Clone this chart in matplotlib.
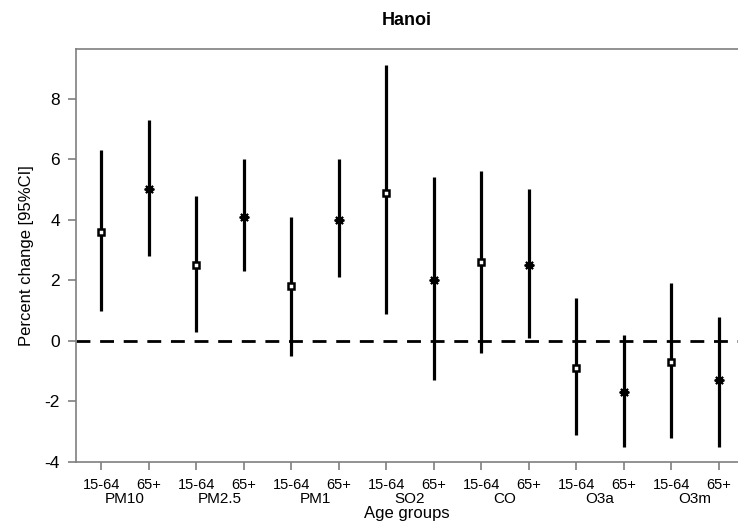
import numpy as np
import matplotlib.pyplot as plt

plt.rcParams['font.family'] = ['Liberation Sans', 'DejaVu Sans']
plt.rcParams['axes.unicode_minus'] = False

# pollutants and age groups
pollutants = ['PM10', 'PM2.5', 'PM1', 'SO2', 'CO', 'O3a', 'O3m']
age_groups = ['15-64', '65+']

# percent change and 95% CI, 15-64 then 65+ for each pollutant
est_young = [3.6, 2.5, 1.8, 4.9, 2.6, -0.9, -0.7]
low_young = [1.0, 0.3, -0.5, 0.9, -0.4, -3.1, -3.2]
high_young = [6.3, 4.8, 4.1, 9.1, 5.6, 1.4, 1.9]

est_old = [5.0, 4.1, 4.0, 2.0, 2.5, -1.7, -1.3]
low_old = [2.8, 2.3, 2.1, -1.3, 0.1, -3.5, -3.5]
high_old = [7.3, 6.0, 6.0, 5.4, 5.0, 0.2, 0.8]

fig = plt.figure(figsize=(7.38, 5.28), dpi=100)
ax = fig.add_axes([76/738, 66/528, 662/738, 413/528])

x_young = np.arange(len(pollutants)) * 2 + 1
x_old = x_young + 1

ax.axhline(0, color='black', lw=2.0, ls=(0, (5, 3.5)), zorder=1)

ax.vlines(x_young, low_young, high_young, color='black', lw=2.3, zorder=2)
ax.vlines(x_old, low_old, high_old, color='black', lw=2.3, zorder=2)
ax.plot(x_young, est_young, ls='none', marker='s', ms=4.5, mfc='white',
        mec='black', mew=1.8, zorder=3)
ax.plot(x_old, est_old, ls='none', marker=(8, 2, 0), ms=7, mec='black',
        mew=1.4, zorder=3)

ax.set_xlim(0.47, 14.4)
ax.set_ylim(-4, 9.64)
ax.set_yticks([-4, -2, 0, 2, 4, 6, 8])

ticks = np.arange(1, 15)
ax.set_xticks(ticks)
ax.set_xticklabels(age_groups * len(pollutants))
for xc, name in zip(x_young + 0.5, pollutants):
    ax.text(xc, -0.072, name, transform=ax.get_xaxis_transform(),
            ha='center', va='top', fontsize=11)

for side in ['left', 'top', 'bottom']:
    ax.spines[side].set_color('#7f7f7f')
    ax.spines[side].set_linewidth(1.2)
ax.spines['right'].set_visible(False)
ax.tick_params(axis='both', color='#7f7f7f', length=5.5, width=1.2)
ax.tick_params(axis='x', labelsize=10.5, pad=6)
ax.tick_params(axis='y', labelsize=12.5, pad=6)

ax.set_xlabel('Age groups', fontsize=12, labelpad=10)
ax.set_ylabel('Percent change [95%CI]', fontsize=12, labelpad=8)
ax.set_title('Hanoi', fontsize=13, fontweight='bold', pad=17)

plt.savefig('out.png', dpi=100)
